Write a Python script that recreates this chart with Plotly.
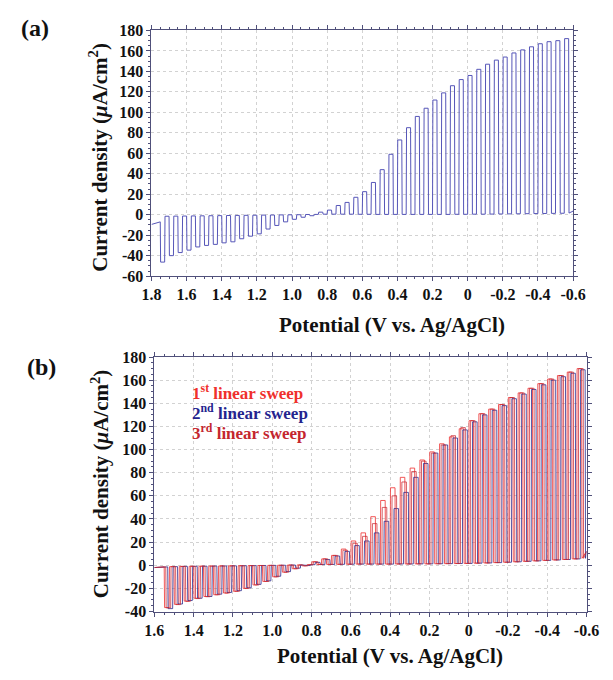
import plotly.graph_objects as go

# ---------------- DATA ----------------
# Panel (a): potentials (V vs Ag/AgCl) where each light-on period starts
pot_a = [1.75, 1.70, 1.65, 1.60, 1.55, 1.50, 1.45, 1.40, 1.35, 1.30, 1.25, 1.20,
         1.15, 1.10, 1.05, 1.00, 0.95, 0.90, 0.85, 0.80, 0.75, 0.70, 0.65, 0.60,
         0.55, 0.50, 0.45, 0.40, 0.35, 0.30, 0.25, 0.20, 0.15, 0.10, 0.05, 0.00,
         -0.05, -0.10, -0.15, -0.20, -0.25, -0.30, -0.35, -0.40, -0.45, -0.50, -0.55]
# current under illumination (uA/cm2)
light_a = [-46.3, -40, -37, -34.6, -31.5, -30, -29, -27.5, -26.5, -23.5, -21, -18.7,
           -14, -10.5, -7, -4.5, -2.5, -1, 2.5, 4.5, 9, 12, 17, 22.5,
           31.5, 44, 59, 73, 85, 96, 104, 112, 119, 126, 132, 136,
           142, 147, 151, 154, 158, 161, 164, 167, 169, 170, 172]
# dark current after each light period
dark_a = [-1.5, -1.4, -1.3, -1.2, -1.1, -1.0, -0.9, -0.8, -0.7, -0.6, -0.5, -0.4,
          -0.3, -0.2, -0.1, 0.0, 0.2, 0.3, 0.5, 0.5, 0.5, 0.5, 0.4, 0.4,
          0.3, 0.3, 0.3, 0.3, 0.3, 0.3, 0.3, 0.3, 0.3, 0.4, 0.4, 0.5,
          0.5, 0.6, 0.7, 0.8, 0.9, 1.0, 1.1, 1.2, 1.3, 1.4, 1.6]
start_a = [1.80, -9.5, -7.0]   # start potential, start current, dark before first pulse
end_a = [-0.60, 3.5]

# Panel (b): three successive linear sweeps
pot_b = [1.55, 1.50, 1.45, 1.40, 1.35, 1.30, 1.25, 1.20, 1.15, 1.10, 1.05, 1.00,
         0.95, 0.90, 0.85, 0.80, 0.75, 0.70, 0.65, 0.60, 0.55, 0.50, 0.45, 0.40,
         0.35, 0.30, 0.25, 0.20, 0.15, 0.10, 0.05, 0.00, -0.05, -0.10, -0.15, -0.20,
         -0.25, -0.30, -0.35, -0.40, -0.45, -0.50, -0.55]
light_b1 = [-36.6, -33.8, -31, -28.5, -27, -25.5, -24, -22.5, -20, -17, -14, -10,
            -6, -3, -0.5, 3, 5.5, 8.5, 14, 21, 28, 42, 56, 67,
            76, 84, 91, 98, 105, 111, 118, 125, 131, 135, 139, 145,
            149, 153, 157, 161, 164, 167, 170]
light_b2 = [-37.5, -33.5, -30.5, -28.5, -27, -25, -23.5, -22, -19.5, -16.5, -13.5, -9.5,
            -5.5, -2.5, -0.3, 2.5, 5, 8, 12, 17, 21, 28, 38, 49,
            63, 76, 88, 97, 104, 110, 117, 124, 130, 134, 138, 144,
            148, 152, 156, 160, 163, 166, 169]
light_b3 = [-36.8, -34, -31.2, -28.8, -27.2, -25.5, -24, -22.5, -20, -17, -14, -10,
            -6, -3, -0.5, 3, 5.5, 8.5, 13, 19, 25, 36, 50, 60,
            72, 81, 90, 97, 104, 112, 119, 125, 131, 135, 139, 145,
            149, 153, 157, 161, 164, 167, 170]
dark_b = [-1.2, -1.0, -0.9, -0.8, -0.7, -0.6, -0.5, -0.4, -0.3, -0.2, -0.1, 0.0,
          0.2, 0.3, 0.5, 0.6, 0.7, 0.8, 0.9, 1.0, 1.0, 1.0, 1.0, 1.1,
          1.1, 1.2, 1.2, 1.3, 1.4, 1.5, 1.6, 1.8, 2.0, 2.3, 2.6, 3.0,
          3.4, 3.8, 4.2, 4.6, 5.0, 5.5, 6.0]
phase_b = [0.0, 0.018, 0.008]   # potential lag of each sweep's chopping
start_b = [1.60, -2.0, -1.4]
end_b = [-0.60, 12.0]

sweep_names = ["1<sup>st</sup> linear sweep", "2<sup>nd</sup> linear sweep",
               "3<sup>rd</sup> linear sweep"]
sweep_colors = ["#f0302c", "#24248e", "#c4262e"]
line_colors = ["rgba(238,60,60,0.85)", "rgba(40,40,140,0.8)", "rgba(200,40,50,0.75)"]

xticks_a = [1.8, 1.6, 1.4, 1.2, 1.0, 0.8, 0.6, 0.4, 0.2, 0.0, -0.2, -0.4, -0.6]
xtext_a = ["1.8", "1.6", "1.4", "1.2", "1.0", "0.8", "0.6", "0.4", "0.2", "0", "-0.2", "-0.4", "-0.6"]
xticks_b = [1.6, 1.4, 1.2, 1.0, 0.8, 0.6, 0.4, 0.2, 0.0, -0.2, -0.4, -0.6]
xtext_b = ["1.6", "1.4", "1.2", "1.0", "0.8", "0.6", "0.4", "0.2", "0", "-0.2", "-0.4", "-0.6"]
yticks_a = [180, 160, 140, 120, 100, 80, 60, 40, 20, 0, -20, -40, -60]
yticks_b = [180, 160, 140, 120, 100, 80, 60, 40, 20, 0, -20, -40]

ON_WIDTH = 0.025
EDGE = 0.002


def chopped(pots, lights, darks, start, end, shift=0.0):
    xs = [start[0]]
    ys = [start[1]]
    prev = start[2]
    for v, on, dk in zip(pots, lights, darks):
        v = v - shift
        xs += [v, v - EDGE, v - ON_WIDTH, v - ON_WIDTH - EDGE]
        ys += [prev, on, on, dk]
        prev = dk
    xs.append(end[0])
    ys.append(end[1])
    return xs, ys


fig = go.Figure()

xa, ya = chopped(pot_a, light_a, dark_a, start_a, end_a)
fig.add_trace(go.Scatter(x=xa, y=ya, mode="lines", xaxis="x", yaxis="y",
                         line=dict(color="#5656b8", width=1), showlegend=False))

for lights, shift, col in zip([light_b1, light_b2, light_b3], phase_b, line_colors):
    xb, yb = chopped(pot_b, lights, dark_b, start_b, end_b, shift)
    fig.add_trace(go.Scatter(x=xb, y=yb, mode="lines", xaxis="x2", yaxis="y2",
                             line=dict(color=col, width=1), showlegend=False))

W, H = 613, 680
SERIF = "Liberation Serif, Times New Roman, serif"
tickfont = dict(family=SERIF, size=16, color="#111", weight="bold")
axcol = "#50507a"


def xax(domain, anchor, rng, vals, text):
    return dict(domain=domain, anchor=anchor, range=rng, tickmode="array", tickvals=vals,
                ticktext=text, tickfont=tickfont, showline=True, linecolor=axcol, linewidth=1,
                mirror="ticks", ticks="outside", ticklen=4, tickcolor=axcol,
                minor=dict(tickmode="linear", tick0=0, dtick=0.05, ticks="outside",
                           ticklen=2, tickcolor=axcol),
                showgrid=True, gridcolor="#d2d2d2", griddash="dot", gridwidth=1,
                zeroline=False)


def yax(domain, anchor, rng, vals):
    return dict(domain=domain, anchor=anchor, range=rng, tickmode="array", tickvals=vals,
                ticktext=[str(v) for v in vals], tickfont=tickfont, showline=True,
                linecolor=axcol, linewidth=1, mirror="ticks", ticks="outside", ticklen=4,
                tickcolor=axcol,
                minor=dict(tickmode="linear", tick0=0, dtick=5, ticks="outside",
                           ticklen=2, tickcolor=axcol),
                showgrid=True, gridcolor="#d2d2d2", griddash="dot", gridwidth=1,
                zeroline=False)


fig.update_layout(
    width=W, height=H, margin=dict(l=0, r=0, t=0, b=0),
    paper_bgcolor="white", plot_bgcolor="white",
    xaxis=xax([147 / W, 585 / W], "y", [1.8, -0.6], xticks_a, xtext_a),
    yaxis=yax([1 - 275 / H, 1 - 23 / H], "x", [-60, 180], yticks_a),
    xaxis2=xax([150 / W, 599 / W], "y2", [1.6, -0.6], xticks_b, xtext_b),
    yaxis2=yax([1 - 619 / H, 1 - 358 / H], "x2", [-40, 180], yticks_b),
)

titlefont = dict(family=SERIF, size=21, color="#111", weight="bold")
ann = [
    dict(text="(a)", x=9 / W, y=1 - 21 / H, xanchor="left", yanchor="middle",
         font=dict(family=SERIF, size=24, color="#111", weight="bold")),
    dict(text="(b)", x=16 / W, y=1 - 368 / H, xanchor="left", yanchor="middle",
         font=dict(family=SERIF, size=24, color="#111", weight="bold")),
    dict(text="Potential (V vs. Ag/AgCl)", x=397 / W, y=1 - 325 / H, xanchor="center",
         yanchor="middle", font=titlefont),
    dict(text="Potential (V vs. Ag/AgCl)", x=395 / W, y=1 - 665 / H, xanchor="center",
         yanchor="middle", font=titlefont),
    dict(text="Current density (<i>μ</i>A/cm<sup>2</sup>)", x=92 / W, y=1 - 153 / H,
         textangle=-90, xanchor="center", yanchor="middle", font=titlefont),
    dict(text="Current density (<i>μ</i>A/cm<sup>2</sup>)", x=94 / W, y=1 - 488 / H,
         textangle=-90, xanchor="center", yanchor="middle", font=titlefont),
]
for i, (name, col) in enumerate(zip(sweep_names, sweep_colors)):
    ann.append(dict(text=name, x=187 / W, y=1 - (394 + 20.5 * i) / H, xanchor="left",
                    yanchor="middle",
                    font=dict(family=SERIF, size=17, color=col, weight="bold")))
for a in ann:
    a.update(xref="paper", yref="paper", showarrow=False)
fig.update_layout(annotations=ann)

fig.write_html("out.html")
